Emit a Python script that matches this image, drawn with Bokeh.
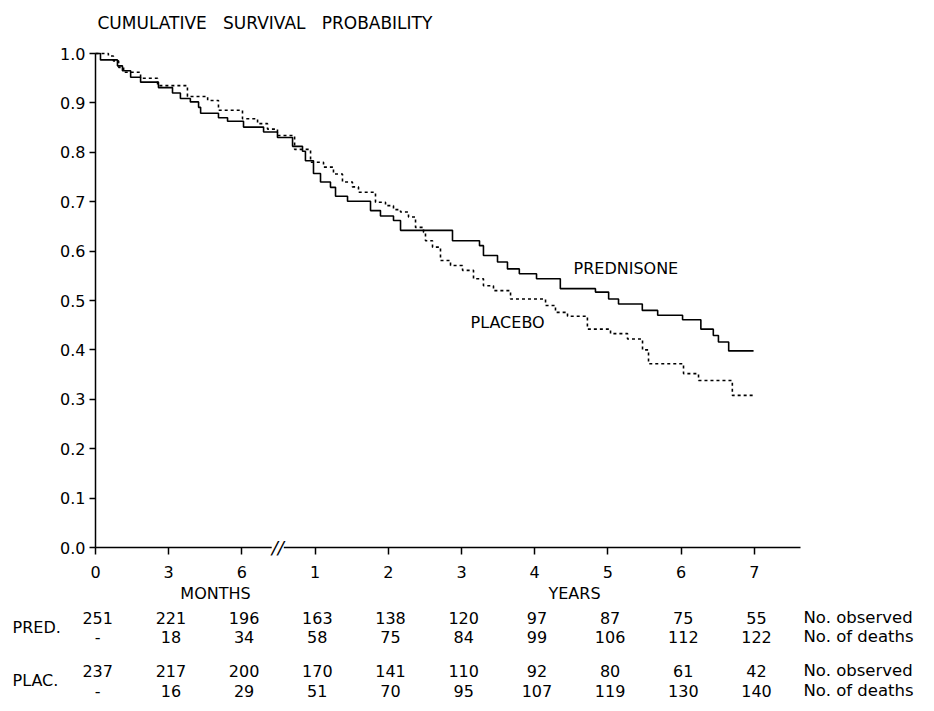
import numpy as np
from bokeh.plotting import figure
from bokeh.models import Range1d, LinearAxis, FixedTicker, Label, ColumnDataSource, NumeralTickFormatter
from bokeh.embed import file_html
from bokeh.resources import INLINE
from bokeh.core.properties import value

# ---------------- data ----------------
# Kaplan-Meier step curves: time in years, survival after each step
pred_time = [0.0, 0.017, 0.075, 0.092, 0.12, 0.154, 0.215, 0.263, 0.29, 0.324, 0.352, 0.359,
             0.42, 0.451, 0.511, 0.648, 0.743, 0.846, 0.914, 0.934, 0.989, 1.074, 1.21, 1.279,
             1.443, 1.757, 1.893, 2.071, 2.167, 2.877, 3.246, 3.30, 3.492, 3.628, 3.79, 4.025,
             4.35, 4.83, 5.01, 5.145, 5.47, 5.68, 6.02, 6.27, 6.44, 6.51, 6.65, 6.99]
pred_surv = [1.0, 0.987, 0.975, 0.965, 0.952, 0.942, 0.931, 0.920, 0.909, 0.902, 0.891, 0.879,
             0.870, 0.863, 0.851, 0.841, 0.830, 0.812, 0.802, 0.783, 0.757, 0.740, 0.729, 0.711,
             0.701, 0.682, 0.671, 0.662, 0.642, 0.621, 0.611, 0.591, 0.578, 0.564, 0.554, 0.544,
             0.524, 0.517, 0.503, 0.493, 0.480, 0.470, 0.461, 0.442, 0.429, 0.416, 0.398, 0.398]

plac_time = [0.0, 0.044, 0.061, 0.079, 0.096, 0.154, 0.212, 0.314, 0.383, 0.42, 0.504, 0.607,
             0.675, 0.743, 0.86, 0.969, 1.115, 1.251, 1.374, 1.51, 1.593, 1.825, 1.962, 2.071,
             2.167, 2.276, 2.372, 2.481, 2.508, 2.604, 2.713, 2.85, 3.014, 3.164, 3.30, 3.437,
             3.67, 4.148, 4.284, 4.448, 4.72, 5.036, 5.268, 5.473, 5.555, 6.033, 6.238, 6.70, 6.99]
plac_surv = [1.0, 0.995, 0.985, 0.972, 0.962, 0.950, 0.935, 0.913, 0.905, 0.885, 0.868, 0.858,
             0.847, 0.834, 0.806, 0.780, 0.770, 0.756, 0.740, 0.730, 0.719, 0.699, 0.692, 0.684,
             0.679, 0.669, 0.648, 0.638, 0.621, 0.608, 0.581, 0.571, 0.561, 0.544, 0.530, 0.520,
             0.503, 0.490, 0.476, 0.468, 0.442, 0.433, 0.422, 0.400, 0.372, 0.352, 0.338, 0.308, 0.308]

month_ticks = [0, 3, 6]
year_ticks = [1, 2, 3, 4, 5, 6, 7]
y_ticks = [0.0, 0.1, 0.2, 0.3, 0.4, 0.5, 0.6, 0.7, 0.8, 0.9, 1.0]

pred_observed = ["251", "221", "196", "163", "138", "120", "97", "87", "75", "55"]
pred_deaths = ["-", "18", "34", "58", "75", "84", "99", "106", "112", "122"]
plac_observed = ["237", "217", "200", "170", "141", "110", "92", "80", "61", "42"]
plac_deaths = ["-", "16", "29", "51", "70", "95", "107", "119", "130", "140"]

title_words = ["CUMULATIVE", "SURVIVAL", "PROBABILITY"]
FONT = "DejaVu Sans"


# broken time axis: 0-6 months, break, 1-7 years
def to_u(t_years):
    t = np.asarray(t_years, dtype=float)
    return np.where(t <= 0.5, 4 * t, np.where(t <= 1.0, 2 + 2 * (t - 0.5), 2 + t))


# ---------------- layout constants ----------------
W, H = 934, 711
LEFT_PX, AXIS_PX = 95, 547
PX_PER_U, PX_PER_S = 73.2, 494.0

p = figure(width=W, height=H, output_backend="svg", toolbar_location=None,
           x_range=Range1d(-LEFT_PX / PX_PER_U, (W - LEFT_PX) / PX_PER_U),
           y_range=Range1d(-(H - AXIS_PX) / PX_PER_S, AXIS_PX / PX_PER_S),
           x_axis_location=None, y_axis_location=None, min_border=0,
           outline_line_color=None, background_fill_color="white")
p.grid.visible = False

tick_u = [float(v) for v in to_u([m / 12 for m in month_ticks] + year_ticks)]
tick_labels = [str(m) for m in month_ticks] + [str(y) for y in year_ticks]

xaxis = LinearAxis(fixed_location=0, bounds=(0, 9.63),
                   ticker=FixedTicker(ticks=tick_u),
                   major_label_overrides={u: l for u, l in zip(tick_u, tick_labels)},
                   major_tick_out=7, major_tick_in=0, minor_tick_out=0, minor_tick_in=0,
                   axis_line_width=1.5, major_tick_line_width=1.5,
                   axis_line_color="black", major_tick_line_color="black",
                   major_label_text_color="black",
                   major_label_text_font=FONT, major_label_text_font_size="16px",
                   major_label_standoff=11)
p.add_layout(xaxis, "below")

yaxis = LinearAxis(fixed_location=0, bounds=(0, 1),
                   ticker=FixedTicker(ticks=y_ticks), formatter=NumeralTickFormatter(format="0.0"),
                   major_tick_out=6, major_tick_in=0, minor_tick_out=0, minor_tick_in=0,
                   axis_line_width=1.5, major_tick_line_width=1.5,
                   axis_line_color="black", major_tick_line_color="black",
                   major_label_text_color="black",
                   major_label_text_font=FONT, major_label_text_font_size="16px",
                   major_label_standoff=4)
p.add_layout(yaxis, "left")

# curves
p.step(x=to_u(pred_time), y=pred_surv, mode="after", line_color="black", line_width=1.6)
p.step(x=to_u(plac_time), y=plac_surv, mode="after", line_color="black", line_width=1.6,
       line_dash="3 3")

# axis break marker
p.add_layout(Label(x=2.49, y=0, text="//", text_align="center", text_baseline="middle",
                   text_font=FONT, text_font_size="18px", text_font_style="italic",
                   background_fill_color="white", text_color="black"))


def s_of(py):
    return (AXIS_PX - py) / PX_PER_S


def u_of(px):
    return (px - LEFT_PX) / PX_PER_U


txt = dict(text_font=value(FONT), text_font_size=value("16px"), text_color="black")

# title (wide word spacing like the original lettering)
gap = "\u00a0\u00a0\u00a0"
p.text(x=[u_of(97)], y=[s_of(22)], text=[gap.join(title_words)], text_align="left",
       text_baseline="middle", text_font=value(FONT), text_font_size=value("17px"), text_color="black")
p.text(x=[u_of(573)], y=[s_of(268)], text=["PREDNISONE"], text_align="left", text_baseline="middle", **txt)
p.text(x=[u_of(470)], y=[s_of(322)], text=["PLACEBO"], text_align="left", text_baseline="middle", **txt)

# axis unit labels
p.text(x=[u_of(215), u_of(574)], y=[s_of(593)] * 2, text=["MONTHS", "YEARS"],
       text_align="center", text_baseline="middle", **txt)

# table
rows = [(pred_observed, 617), (pred_deaths, 636), (plac_observed, 670), (plac_deaths, 690)]
xs, ys, ts = [], [], []
for vals, py in rows:
    for u, v in zip(tick_u, vals):
        xs.append(u + 0.03)
        ys.append(s_of(py))
        ts.append(v)
p.text(x="x", y="y", text="t", source=ColumnDataSource(dict(x=xs, y=ys, t=ts)),
       text_align="center", text_baseline="middle", **txt)

p.text(x=[u_of(803)] * 4, y=[s_of(py) for _, py in rows],
       text=["No. observed", "No. of deaths", "No. observed", "No. of deaths"],
       text_align="left", text_baseline="middle", text_font=value(FONT),
       text_font_size=value("16.5px"), text_color="black")
p.text(x=[u_of(12)] * 2, y=[s_of(627), s_of(680)], text=["PRED.", "PLAC."],
       text_align="left", text_baseline="middle", **txt)

open("out.html", "w").write(file_html(p, INLINE))
